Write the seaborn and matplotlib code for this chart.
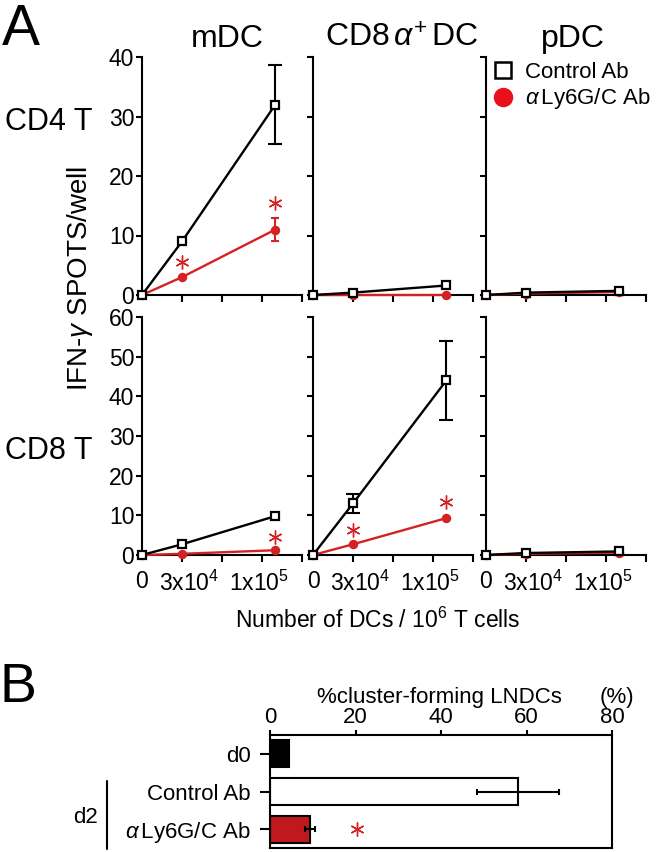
import matplotlib
matplotlib.use("Agg")
import matplotlib.pyplot as plt
from matplotlib.lines import Line2D
import seaborn as sns

W, H = 658, 852

sns.set_style("ticks")
plt.rcParams.update({
    "font.family": ["Liberation Sans", "DejaVu Sans"],
    "mathtext.fontset": "custom",
    "mathtext.rm": "Liberation Sans",
    "mathtext.it": "Liberation Sans:italic",
    "mathtext.bf": "Liberation Sans:bold",
    "axes.linewidth": 1.5,
    "axes.edgecolor": "black",
    "xtick.color": "black",
    "ytick.color": "black",
    "text.color": "black",
})

RED = "#d42224"
BAR_RED = "#c0181c"

# ── Panel A data ────────────────────────────────────────────────────────────
doses = [0, 3e4, 1e5]
col_titles = ["mDC", "CD8$\\,\\alpha^{+}\\,$DC", "pDC"]
row_titles = ["CD4 T", "CD8 T"]
row_ymax = [40, 60]

# CD4 T row (mDC, CD8a+ DC, pDC)
cd4_ctrl = [[0, 9, 32], [0, 0.4, 1.6], [0, 0.4, 0.7]]
cd4_ctrl_err = [[0, 0, 6.7], [0, 0, 0], [0, 0, 0]]
cd4_ly6 = [[0, 3, 11], [0, 0, 0], [0, 0.25, 0.5]]
cd4_ly6_err = [[0, 0, 2.0], [0, 0, 0], [0, 0, 0]]
cd4_star_x = [[3e4, 1e5], [], []]
cd4_star_y = [[5.6, 15.4], [], []]

# CD8 T row
cd8_ctrl = [[0, 2.7, 9.8], [0, 13, 44], [0, 0.5, 0.9]]
cd8_ctrl_err = [[0, 0, 0], [0, 2.5, 10], [0, 0, 0]]
cd8_ly6 = [[0, 0.3, 1.2], [0, 2.7, 9.3], [0, 0.3, 0.6]]
cd8_ly6_err = [[0, 0, 0], [0, 0, 0], [0, 0, 0]]
cd8_star_x = [[1e5], [3e4, 1e5], []]
cd8_star_y = [[4.5], [6.3, 13.4], []]

x_minor_ticks = [0, 3e4, 6e4, 9e4, 1.2e5]
x_label_pos = [0, 3.5e4, 8.8e4]
x_labels = ["0", "3x10$^4$", "1x10$^5$"]

# ── Panel B data ────────────────────────────────────────────────────────────
b_labels = ["d0", "Control Ab", "$\\alpha\\,$Ly6G/C Ab"]
b_values = [4.5, 58, 9.4]
b_err = [0, 9.5, 1.2]
b_colors = ["black", "white", BAR_RED]
b_star_x = [20.3]
b_star_y = [2]


def box(x0, y0, x1, y1):
    return [x0 / W, 1 - y1 / H, (x1 - x0) / W, (y1 - y0) / H]


def draw_series(ax, ys, errs, color, marker, ms, face, z):
    sns.lineplot(x=doses, y=ys, ax=ax, color=color, linewidth=1.7,
                 marker=marker, markersize=ms, markerfacecolor=face,
                 markeredgecolor=color, markeredgewidth=1.6,
                 errorbar=None, zorder=z)
    ax.lines[-1].set_clip_on(False)
    idx = [i for i, e in enumerate(errs) if e > 0]
    if idx:
        cap = 4.7 if color == "black" else 2.8
        ax.errorbar([doses[i] for i in idx], [ys[i] for i in idx],
                    yerr=[errs[i] for i in idx], fmt="none", ecolor=color,
                    elinewidth=1.5, capsize=cap, capthick=1.5,
                    zorder=z - 0.5, clip_on=False)


fig = plt.figure(figsize=(W / 100, H / 100), dpi=100)

col_x = [(142, 302), (313, 473), (486, 646)]
row_y = [(57, 295), (317, 555)]
rows = [
    (cd4_ctrl, cd4_ctrl_err, cd4_ly6, cd4_ly6_err, cd4_star_x, cd4_star_y),
    (cd8_ctrl, cd8_ctrl_err, cd8_ly6, cd8_ly6_err, cd8_star_x, cd8_star_y),
]

axes = []
for r, (ctrl, ctrl_e, ly6, ly6_e, sx, sy) in enumerate(rows):
    for c in range(3):
        ax = fig.add_axes(box(col_x[c][0], row_y[r][0], col_x[c][1], row_y[r][1]))
        ax.set_facecolor("none")
        draw_series(ax, ly6[c], ly6_e[c], RED, "o", 5.2, RED, 3)
        draw_series(ax, ctrl[c], ctrl_e[c], "black", "s", 6, "white", 5)
        if sx[c]:
            ax.plot(sx[c], sy[c], linestyle="none", marker=(6, 2, 0),
                    markersize=10, markeredgewidth=1.0, color=RED,
                    clip_on=False, zorder=6)
        ax.set_xlim(0, 1.2e5)
        ax.set_ylim(0, row_ymax[r])
        ax.set_yticks(range(0, row_ymax[r] + 1, 10))
        ax.set_xticks(x_minor_ticks, minor=True)
        ax.set_xticks(x_label_pos)
        ax.set_xticklabels(x_labels)
        ax.tick_params(axis="x", which="minor", length=5, width=1.5, direction="out")
        ax.tick_params(axis="x", which="major", length=0, pad=11,
                       labelsize=16.5, labelbottom=(r == 1))
        ax.tick_params(axis="y", length=4.5, width=1.5, pad=1,
                       labelsize=16.5, labelleft=(c == 0))
        ax.set_xlabel("")
        ax.set_ylabel("")
        sns.despine(ax=ax)
        axes.append(ax)

# column and row titles
title_x = [227, 402, 573]
for t, x in zip(col_titles, title_x):
    fig.text(x / W, 1 - 47 / H, t, ha="center", va="baseline", fontsize=23)
fig.text(5 / W, 1 - 130 / H, row_titles[0], ha="left", va="baseline", fontsize=22)
fig.text(5 / W, 1 - 459 / H, row_titles[1], ha="left", va="baseline", fontsize=22)
fig.text(80 / W, 1 - 278 / H, "IFN-$\\gamma$ SPOTS/well", rotation=90,
         ha="center", va="center", fontsize=20)
fig.text(378 / W, 1 - 620 / H, "Number of DCs / 10$^6$ T cells",
         ha="center", va="center", fontsize=16.5)
fig.text(2 / W, 1 - 45 / H, "A", ha="left", va="baseline", fontsize=41)

handles = [
    Line2D([], [], linestyle="none", marker="s", markersize=11,
           markerfacecolor="white", markeredgecolor="black", markeredgewidth=1.8),
    Line2D([], [], linestyle="none", marker="o", markersize=13,
           markerfacecolor="#e8101a", markeredgecolor="#e8101a"),
]
axes[2].legend(handles, ["Control Ab", "$\\alpha\\,$Ly6G/C Ab"],
               loc="upper left", bbox_to_anchor=(492 / W, 1 - 62 / H),
               bbox_transform=fig.transFigure, frameon=False, fontsize=16,
               handlelength=1.0, handletextpad=0.5, labelspacing=0.15,
               borderpad=0, borderaxespad=0)

# ── Panel B ─────────────────────────────────────────────────────────────────
axb = fig.add_axes(box(270, 735, 612, 848))
sns.barplot(x=b_values, y=b_labels, hue=b_labels, palette=b_colors,
            legend=False, orient="h", width=0.72, edgecolor="black",
            linewidth=1.5, saturation=1, ax=axb)
idx = [i for i, e in enumerate(b_err) if e > 0]
axb.errorbar([b_values[i] for i in idx], idx, xerr=[b_err[i] for i in idx],
             fmt="none", ecolor="black", elinewidth=1.5, capsize=2.5,
             capthick=1.5, zorder=4)
axb.plot(b_star_x, b_star_y, linestyle="none", marker=(6, 2, 0),
         markersize=10, markeredgewidth=1.0, color=RED)
axb.set_xlim(0, 80)
axb.set_ylim(2.5, -0.5)
axb.set_xticks(range(0, 81, 20))
axb.xaxis.tick_top()
axb.tick_params(axis="x", length=3.5, width=1.5, pad=1.5, labelsize=16)
axb.tick_params(axis="y", length=7, width=1.5, pad=7, labelsize=16)
axb.set_xlabel("")
axb.set_ylabel("")
for s in axb.spines.values():
    s.set_visible(True)
    s.set_linewidth(1.5)

fig.text(317 / W, 1 - 703 / H, "%cluster-forming LNDCs", ha="left",
         va="baseline", fontsize=16)
fig.text(600 / W, 1 - 703 / H, "(%)", ha="left", va="baseline", fontsize=16)
fig.text(85 / W, 1 - 823 / H, "d2", ha="center", va="baseline", fontsize=16)
fig.add_artist(Line2D([107 / W, 107 / W], [1 - 781 / H, 1 - 849 / H],
                      color="black", linewidth=1.5))
fig.text(0 / W, 1 - 702 / H, "B", ha="left", va="baseline", fontsize=40)

fig.savefig("out.png", dpi=100)
